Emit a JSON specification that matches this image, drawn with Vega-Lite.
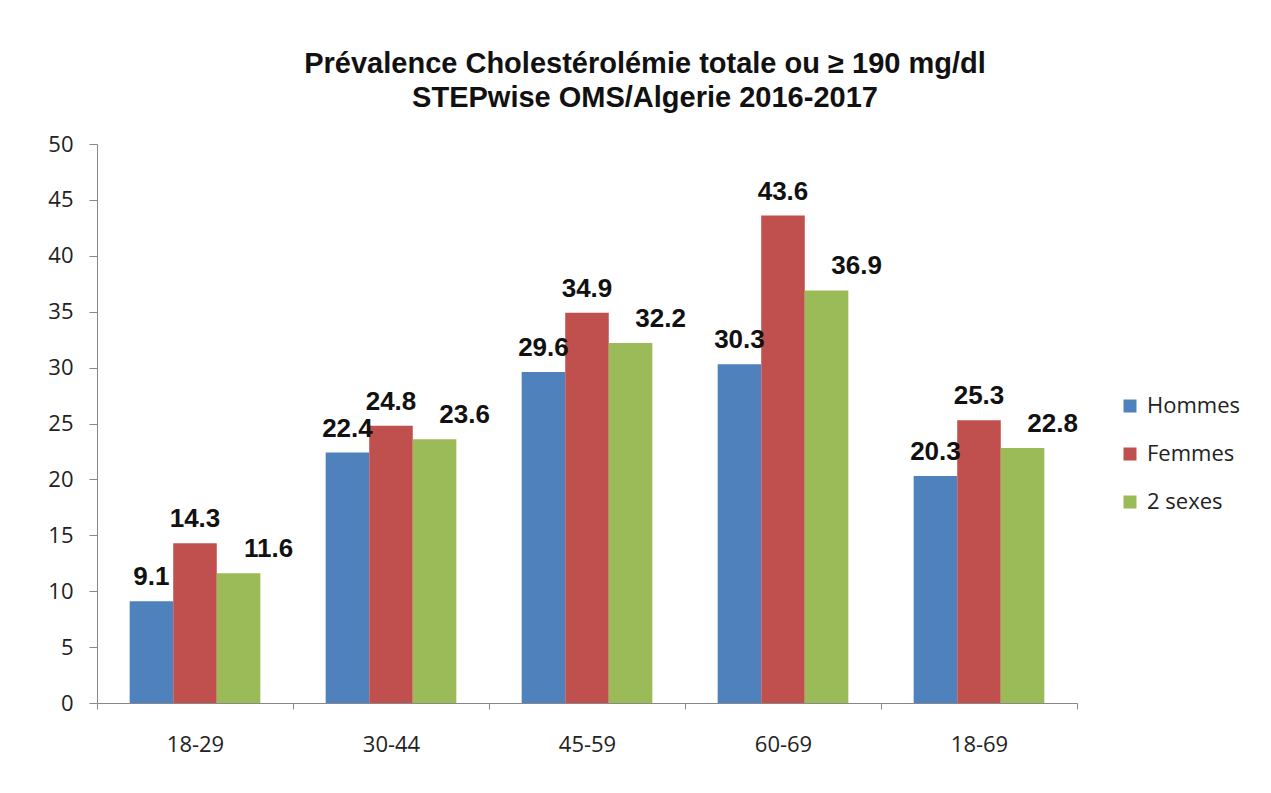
{
  "$schema": "https://vega.github.io/schema/vega-lite/v6.json",
  "autosize": {"type": "none"},
  "width": 980,
  "height": 559,
  "padding": {"left": 97, "top": 144, "right": 194, "bottom": 90},
  "background": "white",
  "title": {
    "text": ["Prévalence Cholestérolémie totale ou ≥ 190 mg/dl", "STEPwise OMS/Algerie 2016-2017"],
    "font": "Liberation Sans",
    "fontSize": 29,
    "fontWeight": "bold",
    "color": "#111111",
    "anchor": "middle",
    "dx": 58,
    "offset": 20,
    "lineHeight": 34
  },
  "config": {"view": {"stroke": null}},
  "data": {
    "values": [
      {"age": "18-29", "sexe": "Hommes", "value": 9.1},
      {"age": "18-29", "sexe": "Femmes", "value": 14.3},
      {"age": "18-29", "sexe": "2 sexes", "value": 11.6},
      {"age": "30-44", "sexe": "Hommes", "value": 22.4},
      {"age": "30-44", "sexe": "Femmes", "value": 24.8},
      {"age": "30-44", "sexe": "2 sexes", "value": 23.6},
      {"age": "45-59", "sexe": "Hommes", "value": 29.6},
      {"age": "45-59", "sexe": "Femmes", "value": 34.9},
      {"age": "45-59", "sexe": "2 sexes", "value": 32.2},
      {"age": "60-69", "sexe": "Hommes", "value": 30.3},
      {"age": "60-69", "sexe": "Femmes", "value": 43.6},
      {"age": "60-69", "sexe": "2 sexes", "value": 36.9},
      {"age": "18-69", "sexe": "Hommes", "value": 20.3},
      {"age": "18-69", "sexe": "Femmes", "value": 25.3},
      {"age": "18-69", "sexe": "2 sexes", "value": 22.8}
    ]
  },
  "encoding": {
    "x": {
      "field": "age",
      "type": "nominal",
      "sort": null,
      "scale": {"paddingInner": 0, "paddingOuter": 0},
      "axis": {
        "title": null,
        "labelAngle": 0,
        "tickBand": "extent",
        "tickSize": 6,
        "labelPadding": 25,
        "labelFont": "Open Sans",
        "labelFontSize": 22,
        "labelColor": "#222222",
        "domainColor": "#888888",
        "tickColor": "#888888"
      }
    },
    "xOffset": {
      "field": "sexe",
      "type": "nominal",
      "sort": ["Hommes", "Femmes", "2 sexes"],
      "scale": {"paddingInner": 0, "paddingOuter": 0.75}
    },
    "y": {
      "field": "value",
      "type": "quantitative",
      "scale": {"domain": [0, 50]},
      "axis": {
        "title": null,
        "values": [0, 5, 10, 15, 20, 25, 30, 35, 40, 45, 50],
        "grid": false,
        "tickSize": 8,
        "labelPadding": 16,
        "labelFont": "Open Sans",
        "labelFontSize": 22,
        "labelColor": "#222222",
        "domainColor": "#888888",
        "tickColor": "#888888"
      }
    }
  },
  "layer": [
    {
      "mark": {"type": "bar"},
      "encoding": {
        "color": {
          "field": "sexe",
          "type": "nominal",
          "scale": {"domain": ["Hommes", "Femmes", "2 sexes"], "range": ["#4F81BD", "#C0504D", "#9BBB59"]},
          "legend": {
            "title": null,
            "orient": "none",
            "legendX": 1022,
            "legendY": 251,
            "symbolType": "square",
            "symbolSize": 169,
            "symbolStrokeWidth": 0,
            "labelFont": "Open Sans",
            "labelFontSize": 22,
            "labelColor": "#222222",
            "rowPadding": 26,
            "labelOffset": 6
          }
        }
      }
    },
    {
      "transform": [{"filter": "datum.sexe != '2 sexes'"}],
      "mark": {"type": "text", "font": "Liberation Sans", "fontWeight": "bold", "fontSize": 26, "baseline": "alphabetic", "dy": -16, "color": "#111111"},
      "encoding": {"text": {"field": "value", "type": "quantitative", "format": ".1f"}}
    },
    {
      "transform": [{"filter": "datum.sexe == '2 sexes'"}],
      "mark": {"type": "text", "font": "Liberation Sans", "fontWeight": "bold", "fontSize": 26, "baseline": "alphabetic", "dy": -16, "dx": 30, "color": "#111111"},
      "encoding": {"text": {"field": "value", "type": "quantitative", "format": ".1f"}}
    }
  ]
}
